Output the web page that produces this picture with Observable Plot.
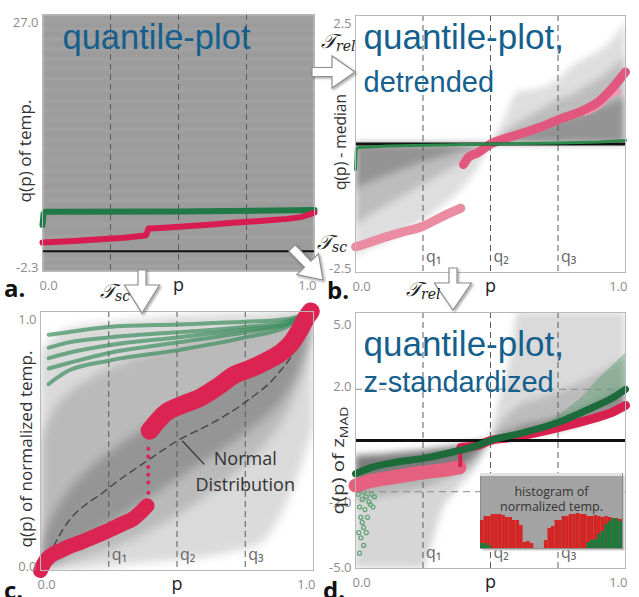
<!DOCTYPE html>
<html><head><meta charset="utf-8">
<script src="https://cdn.jsdelivr.net/npm/d3@7"></script>
<script src="https://cdn.jsdelivr.net/npm/@observablehq/plot@0.6"></script>
<style>
body{margin:0;background:#fff;}
#wrap{position:relative;width:639px;height:597px;overflow:hidden;background:#fff;}
#wrap > svg{position:absolute;left:0;top:0;}
</style></head><body><div id="wrap"></div>
<script>
// ---------- shared ----------
const qP = [0.25, 0.5, 0.75];
const qLabels = ["q₁", "q₂", "q₃"];
const xTickLabels = ["0.0", "p", "1.0"];

// ---------- panel a : quantile-plot ----------
const aYDomain = [-2.3, 27.0];
const aStreaks = [26.4, 25.3, 24.2, 23.1, 21.9, 20.9, 19.7, 18.4, 17.2, 16.1, 15.0, 13.9, 12.7, 11.6, 10.4, 9.2, 8.1, 6.9, 5.8, 3.1, 1.7, -0.9, -1.7];
const aRedP = [0, 0.1, 0.2, 0.3, 0.38, 0.39, 0.45, 0.5, 0.6, 0.7, 0.8, 0.9, 0.95, 1.0];
const aRedV = [1.0, 1.15, 1.35, 1.55, 1.8, 2.6, 2.7, 2.8, 3.0, 3.25, 3.45, 3.7, 3.9, 4.4];
const aGreenP = [0, 0.004, 0.01, 0.5, 1.0];
const aGreenV = [3.0, 4.3, 4.5, 4.55, 4.7];

// ---------- panel b : detrended ----------
const bYDomain = [-2.5, 2.5];
const bPL = [0, 0.05, 0.1, 0.15, 0.2, 0.25, 0.3, 0.35, 0.4, 0.45, 0.5];
const bLowOuter = [-2.2, -2.05, -1.95, -1.8, -1.65, -1.5, -1.3, -1.1, -0.85, -0.5, 0];
const bLowMid = [-1.6, -1.4, -1.25, -1.1, -0.95, -0.8, -0.65, -0.5, -0.35, -0.2, 0];
const bLowInner = [-0.9, -0.75, -0.65, -0.55, -0.45, -0.35, -0.28, -0.2, -0.12, -0.06, 0];
const bPR = [0.5, 0.55, 0.6, 0.65, 0.7, 0.75, 0.8, 0.85, 0.9, 0.95, 1.0];
const bUpOuter = [0, 0.45, 1.0, 1.05, 1.1, 1.25, 1.5, 1.65, 1.8, 2.0, 2.4];
const bUpMid = [0, 0.2, 0.4, 0.55, 0.7, 0.85, 0.95, 1.1, 1.25, 1.45, 1.7];
const bUpInner = [0, 0.08, 0.15, 0.25, 0.35, 0.45, 0.52, 0.6, 0.7, 0.8, 0.9];
const bRed1P = [0, 0.05, 0.1, 0.17, 0.25, 0.3, 0.35, 0.39];
const bRed1V = [-2.0, -1.92, -1.83, -1.72, -1.6, -1.47, -1.34, -1.25];
const bRed2P = [0.4, 0.42, 0.45, 0.5, 0.55, 0.6, 0.68, 0.75, 0.85, 0.9, 0.95, 1.0];
const bRed2V = [-0.4, -0.25, -0.18, 0, 0.1, 0.18, 0.32, 0.47, 0.67, 0.82, 1.08, 1.4];
const bRed3P = [0.85, 0.9, 0.94, 0.97];
const bRed3V = [0.62, 0.75, 0.95, 1.02];
const bGreenP = [0, 0.003, 0.01, 0.05, 0.12, 0.5, 0.75, 0.9, 1.0];
const bGreenV = [-0.5, -0.1, -0.07, -0.06, -0.04, 0, 0.02, 0.04, 0.07];

// ---------- panel c : normalized ----------
const cYDomain = [0, 1];
const cP = [0, 0.05, 0.1, 0.2, 0.3, 0.4, 0.5, 0.6, 0.7, 0.8, 0.9, 0.95, 1];
const cOutLo = [0, 0, 0, 0.01, 0.02, 0.03, 0.04, 0.05, 0.07, 0.1, 0.25, 0.38, 0.55];
const cOutHi = [0.84, 0.9, 0.93, 0.95, 0.96, 0.97, 0.98, 0.985, 0.99, 0.99, 1, 1, 1];
const cMidLo = [0, 0.01, 0.03, 0.06, 0.1, 0.15, 0.21, 0.28, 0.36, 0.46, 0.6, 0.72, 0.9];
const cMidHi = [0.5, 0.62, 0.68, 0.75, 0.8, 0.84, 0.87, 0.9, 0.92, 0.94, 0.96, 0.98, 1];
const cInLo = [0, 0.03, 0.07, 0.14, 0.21, 0.28, 0.35, 0.42, 0.49, 0.57, 0.68, 0.78, 0.97];
const cInHi = [0.1, 0.22, 0.3, 0.41, 0.49, 0.56, 0.62, 0.68, 0.74, 0.8, 0.87, 0.92, 1];
const cGreenP = [0.03, 0.1, 0.25, 0.5, 0.75, 0.9, 0.97];
const cGreen1 = [0.91, 0.92, 0.94, 0.95, 0.96, 0.97, 0.99];
const cGreen2 = [0.86, 0.88, 0.9, 0.92, 0.94, 0.96, 0.99];
const cGreen3 = [0.82, 0.84, 0.87, 0.9, 0.93, 0.95, 0.99];
const cGreen4 = [0.78, 0.8, 0.84, 0.88, 0.92, 0.95, 0.99];
const cGreen5 = [0.72, 0.77, 0.81, 0.85, 0.9, 0.94, 0.99];
const cRed1P = [0, 0.02, 0.08, 0.15, 0.24, 0.3, 0.34, 0.39];
const cRed1V = [0.0, 0.04, 0.08, 0.11, 0.15, 0.18, 0.2, 0.25];
const cRed2P = [0.4, 0.46, 0.52, 0.59, 0.65, 0.71, 0.77, 0.83, 0.88, 0.92, 0.95, 0.97, 0.99];
const cRed2V = [0.54, 0.61, 0.64, 0.67, 0.71, 0.755, 0.78, 0.81, 0.84, 0.88, 0.93, 0.97, 1.0];
const cJumpV = [0.3, 0.34, 0.37, 0.4, 0.44, 0.47];
const cNormalP = [0.01, 0.08, 0.24, 0.4, 0.5, 0.63, 0.75, 0.87, 0.93, 0.97];
const cNormalV = [0.01, 0.155, 0.31, 0.43, 0.5, 0.57, 0.65, 0.76, 0.85, 0.96];
const cNote = {p1: 0.52, v1: 0.5, p2: 0.6, v2: 0.41, tp: 0.75, tv: 0.39, text: "Normal\nDistribution"};

// ---------- panel d : z-standardized ----------
const dYDomain = [-5, 5];
const dYTicks = [5, 2, -2, -5];
const dPL = [0, 0.1, 0.2, 0.25, 0.28, 0.32, 0.38, 0.45, 0.5];
const dLTop = [-0.6, -0.55, -0.45, -0.4, -0.35, -0.3, -0.22, -0.1, 0];
const dLOut = [-5, -5, -5, -5, -4.2, -2.8, -1.9, -1.0, 0];
const dLMid = [-2.4, -2.2, -2.0, -1.9, -1.8, -1.6, -1.35, -0.8, 0];
const dLIn = [-1.9, -1.6, -1.45, -1.35, -1.25, -1.15, -1.05, -0.5, 0];
const dPR = [0.5, 0.52, 0.55, 0.58, 0.6, 0.7, 0.8, 0.9, 1.0];
const dRBot = [0, 0.03, 0.08, 0.12, 0.15, 0.3, 0.55, 0.9, 1.3];
const dROut = [0.05, 1.0, 2.2, 3.6, 5, 5, 5, 5, 5];
const dRMid = [0.03, 0.4, 0.8, 1.1, 1.3, 1.7, 2.1, 2.6, 3.2];
const dRIn = [0.02, 0.15, 0.3, 0.4, 0.5, 0.75, 1.05, 1.5, 2.1];
const dGreenP = [0, 0.06, 0.15, 0.25, 0.38, 0.45, 0.5, 0.62, 0.75, 0.88, 0.95, 1.0];
const dGreenV = [-1.3, -1.05, -0.85, -0.7, -0.4, -0.2, 0, 0.3, 0.7, 1.3, 1.65, 2.0];
const dGreenHiP = [0.7, 0.75, 0.8, 0.85, 0.9, 0.95, 1.0];
const dGreenHiLo = [0.55, 0.7, 0.9, 1.1, 1.3, 1.65, 2.0];
const dGreenHiHi = [0.6, 0.95, 1.35, 1.8, 2.4, 2.9, 3.4];
const dDotP = [0.01, 0.015, 0.02, 0.025, 0.03, 0.035, 0.04, 0.045, 0.05, 0.06, 0.065, 0.07, 0.02, 0.03, 0.04, 0.015, 0.025, 0.055, 0.012, 0.03];
const dDotV = [-2.1, -2.6, -3.0, -2.3, -3.4, -2.7, -2.2, -3.0, -2.4, -2.1, -2.6, -2.2, -3.8, -4.1, -3.6, -4.4, -3.2, -2.5, -3.6, -2.0];
const dRed1P = [0, 0.05, 0.13, 0.25, 0.33, 0.385];
const dRed1V = [-1.76, -1.6, -1.45, -1.25, -1.15, -1.05];
const dRed2P = [0.39, 0.45, 0.5, 0.56, 0.62, 0.75, 0.88, 0.95, 1.0];
const dRed2V = [-0.27, -0.2, 0, 0.1, 0.2, 0.5, 0.86, 1.1, 1.37];

// ---------- inset histogram ----------
const histRed = [28, 32, 32, 34, 34, 34, 33, 31, 31, 28, 28, 23, 6, 7, 5, 0, 0, 0, 8, 20, 22, 28, 28, 32, 32, 34, 34, 35, 34, 34, 32, 32, 33, 32, 31, 32, 31, 30, 30, 29];
const histGreen = [5, 5, 3, 0, 0, 0, 0, 0, 0, 0, 0, 0, 0, 0, 0, 0, 0, 0, 0, 0, 0, 0, 0, 0, 0, 0, 0, 0, 0, 0, 6, 8, 9, 14, 17, 24, 27, 30, 29, 27];

// ---------- helpers ----------
const W = 639, H = 597;
const SANS = "'Open Sans', 'Noto Sans', sans-serif";
const NARROW = "'Liberation Sans Narrow', 'Open Sans', sans-serif";
const TITLE = "'Liberation Sans', Arial, sans-serif";
const rows = (p, cols) => p.map((v, i) => {
  const o = {p: v};
  for (const k in cols) o[k] = cols[k][i];
  return o;
});
function panel(box, yDomain, marks) {
  return Plot.plot({
    width: W, height: H,
    marginLeft: box[0], marginRight: W - box[1], marginTop: box[2], marginBottom: H - box[3],
    x: {domain: [0, 1], axis: null},
    y: {domain: yDomain, axis: null},
    style: {background: "transparent", overflow: "visible", fontFamily: SANS, fontSize: "13px"},
    marks
  });
}
const band = (data, y1, y2, fill) => Plot.areaY(data, {x: "p", y1, y2, fill, curve: "monotone-x"});
const yTick = (v, dy) => Plot.axisY([v], {tickSize: 0, tickPadding: 4, tickFormat: d => d.toFixed(1), dy, color: "#8c8c8c", fontSize: 13, label: null});
const xTicks = () => [
  Plot.axisX([0], {tickSize: 0, tickPadding: 9, tickFormat: () => xTickLabels[0], textAnchor: "start", dx: -3, color: "#8c8c8c", fontSize: 13, label: null}),
  Plot.axisX([0.5], {tickSize: 0, tickPadding: 7, tickFormat: () => xTickLabels[1], color: "#222", fontSize: 18, label: null}),
  Plot.axisX([1], {tickSize: 0, tickPadding: 9, tickFormat: () => xTickLabels[2], textAnchor: "end", dx: 2, color: "#8c8c8c", fontSize: 13, label: null})
];
const qRules = () => Plot.ruleX(qP, {stroke: "#5a5a5a", strokeDasharray: "6,4", strokeWidth: 1});
const qText = () => Plot.text(qP, {x: d => d, frameAnchor: "bottom", text: (d, i) => qLabels[i], textAnchor: "start", dx: 3, dy: -11, fill: "#666", fontSize: 16, fontFamily: NARROW});
const yLabel = (t, dx, dy) => Plot.text([t], {text: d => d, frameAnchor: "left", textAnchor: "middle", rotate: -90, dx, dy, fill: "#333", fontSize: 16, fontFamily: NARROW});
const title = (t, size, dx, dy) => Plot.text([t], {text: d => d, frameAnchor: "top-left", lineAnchor: "top", dx, dy, fill: "#145f8d", fontSize: size, fontFamily: TITLE});

const wrap = document.getElementById("wrap");

// a panel = a softened layer of gray bundles under a crisp layer of lines and labels
function addPanel(box, yDomain, bandMarks, blur, marks, labels) {
  if (bandMarks) {
    const b = panel(box, yDomain, bandMarks);
    b.style.filter = `blur(${blur}px)`;
    b.style.clipPath = `inset(${box[2]}px ${W - box[1]}px ${H - box[3]}px ${box[0]}px)`;
    wrap.append(b);
  }
  const svg = panel(box, yDomain, marks);
  wrap.append(svg);
  for (const [t, len, sub] of labels) {
    d3.select(svg).selectAll("text").filter(function () { return this.textContent === t; }).each(function () {
      if (sub) d3.select(this).append("tspan").attr("font-size", 11).attr("dy", 4).text(sub);
      const L = this.getComputedTextLength();
      if (L > 0) this.setAttribute("transform", (this.getAttribute("transform") || "") + ` scale(${len / L},1)`);
    });
  }
}

// ---------- panel a ----------
const aBox = [42, 314, 14, 271];
addPanel(aBox, aYDomain, [
  Plot.frame({fill: "#9c9c9c"}),
  Plot.ruleY(aStreaks, {stroke: "#b8b8b8", strokeOpacity: 0.3, strokeWidth: 2})
], 0.8, [
  qRules(),
  Plot.ruleY([0], {stroke: "#111", strokeWidth: 2}),
  Plot.line(rows(aGreenP, {v: aGreenV}), {x: "p", y: "v", stroke: "#1f7a46", strokeWidth: 6}),
  Plot.line(rows(aRedP, {v: aRedV}), {x: "p", y: "v", stroke: "#d81c50", strokeWidth: 6}),
  Plot.frame({stroke: "#b8b8b8"}),
  yTick(27.0, 8), yTick(-2.3, -4),
  ...xTicks(),
  yLabel("q(p) of temp.", -17, 8),
  title("quantile-plot", 34.5, 20, 10)
], [["q(p) of temp.", 103]]);

// ---------- panel b ----------
const bBox = [355, 625, 15, 272];
const bL = rows(bPL, {o: bLowOuter, m: bLowMid, i: bLowInner});
const bR = rows(bPR, {o: bUpOuter, m: bUpMid, i: bUpInner});
addPanel(bBox, bYDomain, [
  band(bL, 0, "o", "#dedede"), band(bL, 0, "m", "#bdbdbd"), band(bL, 0, "i", "#949494"),
  band(bR, 0, "o", "#dedede"), band(bR, 0, "m", "#bdbdbd"), band(bR, 0, "i", "#949494")
], 3.5, [
  qRules(),
  Plot.line(rows(bRed1P, {v: bRed1V}), {x: "p", y: "v", stroke: "#ec8ca3", strokeWidth: 9, curve: "monotone-x"}),
  Plot.line(rows(bRed3P, {v: bRed3V}), {x: "p", y: "v", stroke: "#ef9bb0", strokeWidth: 7, curve: "monotone-x"}),
  Plot.line(rows(bRed2P, {v: bRed2V}), {x: "p", y: "v", stroke: "#e2577e", strokeWidth: 9, curve: "monotone-x"}),
  Plot.ruleY([0], {stroke: "#111", strokeWidth: 3}),
  Plot.line(rows(bGreenP, {v: bGreenV}), {x: "p", y: "v", stroke: "#2c8a4c", strokeWidth: 3}),
  Plot.frame({stroke: "#b8b8b8"}),
  yTick(2.5, 8), yTick(-2.5, -4),
  ...xTicks(),
  qText(),
  yLabel("q(p) - median", -15, -2),
  title("quantile-plot,", 35, 8, 9),
  title("detrended", 29, 8, 56)
], [["q(p) - median", 96]]);

// ---------- panel c ----------
const cBox = [40, 313, 311, 570];
const cB = rows(cP, {ol: cOutLo, oh: cOutHi, ml: cMidLo, mh: cMidHi, il: cInLo, ih: cInHi});
const cG = [cGreen1, cGreen2, cGreen3, cGreen4, cGreen5].flatMap((g, s) => cGreenP.map((p, i) => ({p, v: g[i], s})));
addPanel(cBox, cYDomain, [
  band(cB, "ol", "oh", "#dadada"), band(cB, "ml", "mh", "#bababa"), band(cB, "il", "ih", "#959595")
], 5, [
  qRules(),
  Plot.line(cG, {x: "p", y: "v", z: "s", stroke: "#3d8f5e", strokeWidth: 4, strokeOpacity: 0.7, curve: "monotone-x"}),
  Plot.line(rows(cNormalP, {v: cNormalV}), {x: "p", y: "v", stroke: "#444", strokeWidth: 1.4, strokeDasharray: "7,5", curve: "monotone-x"}),
  Plot.line(rows(cRed1P, {v: cRed1V}), {x: "p", y: "v", stroke: "#dc2453", strokeWidth: 15, curve: "monotone-x"}),
  Plot.line(rows(cRed2P, {v: cRed2V}), {x: "p", y: "v", stroke: "#dc2453", strokeWidth: 18, curve: "monotone-x"}),
  Plot.dot(cJumpV, {x: 0.395, y: d => d, r: 2, fill: "#dc2453"}),
  Plot.link([cNote], {x1: "p1", y1: "v1", x2: "p2", y2: "v2", stroke: "#333", strokeWidth: 1.2}),
  Plot.text([cNote], {x: "tp", y: "tv", text: "text", fill: "#333", fontSize: 18, lineHeight: 1.45, fontFamily: SANS}),
  Plot.frame({stroke: "#b8b8b8"}),
  yTick(1.0, 8), yTick(0.0, -4),
  ...xTicks(),
  qText(),
  yLabel("q(p) of normalized temp.", -14, 8)
], [["q(p) of normalized temp.", 197]]);

// ---------- panel d ----------
const dBox = [355, 625, 312, 568];
const dL = rows(dPL, {t: dLTop, o: dLOut, m: dLMid, i: dLIn});
const dR = rows(dPR, {b: dRBot, o: dROut, m: dRMid, i: dRIn});
addPanel(dBox, dYDomain, [
  band(dL, "t", "o", "#d6d6d6"), band(dL, "t", "m", "#b8b8b8"), band(dL, "t", "i", "#7c7c7c"),
  band(dR, "b", "o", "#dadada"), band(dR, "b", "m", "#bcbcbc"), band(dR, "b", "i", "#8a8a8a")
], 3.5, [
  qRules(),
  Plot.ruleY([2, -2], {stroke: "#8a8a8a", strokeDasharray: "7,5"}),
  Plot.areaY(rows(dGreenHiP, {lo: dGreenHiLo, hi: dGreenHiHi}), {x: "p", y1: "lo", y2: "hi", fill: "#4d9a66", fillOpacity: 0.4, curve: "monotone-x"}),
  Plot.dot(rows(dDotP, {v: dDotV}), {x: "p", y: "v", r: 2, stroke: "#5ea476", strokeWidth: 1.2}),
  Plot.line(rows(dRed1P, {v: dRed1V}), {x: "p", y: "v", stroke: "#e6607f", strokeWidth: 14, curve: "monotone-x"}),
  Plot.ruleX([0.388], {y1: dRed1V[dRed1V.length - 1], y2: dRed2V[0], stroke: "#d8204e", strokeWidth: 4}),
  Plot.line(rows(dRed2P, {v: dRed2V}), {x: "p", y: "v", stroke: "#d8204e", strokeWidth: 9, curve: "monotone-x"}),
  Plot.ruleY([0], {stroke: "#111", strokeWidth: 3}),
  Plot.line(rows(dGreenP, {v: dGreenV}), {x: "p", y: "v", stroke: "#1d6b3a", strokeWidth: 7, curve: "monotone-x"}),
  Plot.frame({stroke: "#b8b8b8"}),
  yTick(dYTicks[0], 12), yTick(dYTicks[1], -2), yTick(dYTicks[2], 11), yTick(dYTicks[3], -1),
  ...xTicks(),
  qText(),
  yLabel("q(p) of z", -17, 20),
  title("quantile-plot,", 35, 8, 19),
  title("z-standardized", 29, 8, 59)
], [["q(p) of z", 108, "MAD"]]);

// ---------- inset histogram ----------
const hBins = histRed.map((r, i) => ({x1: i / histRed.length, x2: (i + 1) / histRed.length, red: r, green: histGreen[i]}));
wrap.append(Plot.plot({
  width: W, height: H,
  marginLeft: 480, marginRight: W - 622, marginTop: 473, marginBottom: H - 548,
  x: {domain: [0, 1], axis: null},
  y: {domain: [0, 75], axis: null},
  style: {background: "transparent", overflow: "visible"},
  marks: [
    Plot.frame({fill: "#c9c9c9", stroke: "none", dx: 2, dy: 2}),
    Plot.frame({fill: "#a3a3a3", stroke: "#8c8c8c"}),
    Plot.ruleY([74], {stroke: "#e2e2e2", strokeWidth: 3}),
    Plot.rectY(hBins, {x1: "x1", x2: "x2", y: "red", fill: "#d42424", inset: 0}),
    Plot.rectY(hBins, {x1: "x1", x2: "x2", y: "green", fill: "#1e7a3c", inset: 0}),
    Plot.text(["histogram of\nnormalized temp."], {text: d => d, frameAnchor: "top", lineAnchor: "middle", dy: 25, lineHeight: 1.2, fill: "#333", fontSize: 12.5, fontFamily: NARROW})
  ]
}));

// ---------- overlay: arrows, transform labels, panel letters ----------
const ov = d3.select(wrap).append("svg").attr("width", W).attr("height", H);
const defs = ov.append("defs");
const f = defs.append("filter").attr("id", "sh").attr("x", "-30%").attr("y", "-30%").attr("width", "160%").attr("height", "160%");
f.append("feDropShadow").attr("dx", 1.5).attr("dy", 1.5).attr("stdDeviation", 1.2).attr("flood-color", "#000").attr("flood-opacity", 0.35);
function arrow(x0, y0, x1, y1, sw, hw, hl) {
  const L = Math.hypot(x1 - x0, y1 - y0), ux = (x1 - x0) / L, uy = (y1 - y0) / L, nx = -uy, ny = ux;
  const bx = x1 - ux * hl, by = y1 - uy * hl;
  const pts = [[x0 + nx * sw / 2, y0 + ny * sw / 2], [bx + nx * sw / 2, by + ny * sw / 2], [bx + nx * hw / 2, by + ny * hw / 2], [x1, y1],
    [bx - nx * hw / 2, by - ny * hw / 2], [bx - nx * sw / 2, by - ny * sw / 2], [x0 - nx * sw / 2, y0 - ny * sw / 2]];
  ov.append("polygon").attr("points", pts.map(p => p.join(",")).join(" "))
    .attr("fill", "#fff").attr("stroke", "#8e8e8e").attr("stroke-width", 1.2).attr("filter", "url(#sh)");
}
arrow(312, 72, 355, 72, 9, 32, 23);
arrow(142, 270, 142, 313, 8, 35, 28);
arrow(453, 268, 453, 310, 8, 37, 27);
arrow(292, 248, 323, 280, 9, 30, 22);
function tLabel(x, y, sub) {
  const t = ov.append("text").attr("x", x).attr("y", y).attr("font-family", "'DejaVu Serif', 'Liberation Serif', serif")
    .attr("font-style", "italic").attr("font-size", 20).attr("fill", "#222");
  t.append("tspan").text("𝒯");
  t.append("tspan").attr("font-size", 14).attr("dy", 3).text(sub);
}
tLabel(321, 48, "rel");
tLabel(317, 249, "sc");
tLabel(100, 298, "sc");
tLabel(406, 296, "rel");
const letters = [["a.", 4, 297], ["b.", 327, 299], ["c.", 4, 599], ["d.", 323, 599]];
for (const [s, x, y] of letters) {
  ov.append("text").attr("x", x).attr("y", y).attr("font-family", SANS).attr("font-weight", "bold").attr("font-size", 24).attr("fill", "#111").text(s);
}
</script></body></html>
